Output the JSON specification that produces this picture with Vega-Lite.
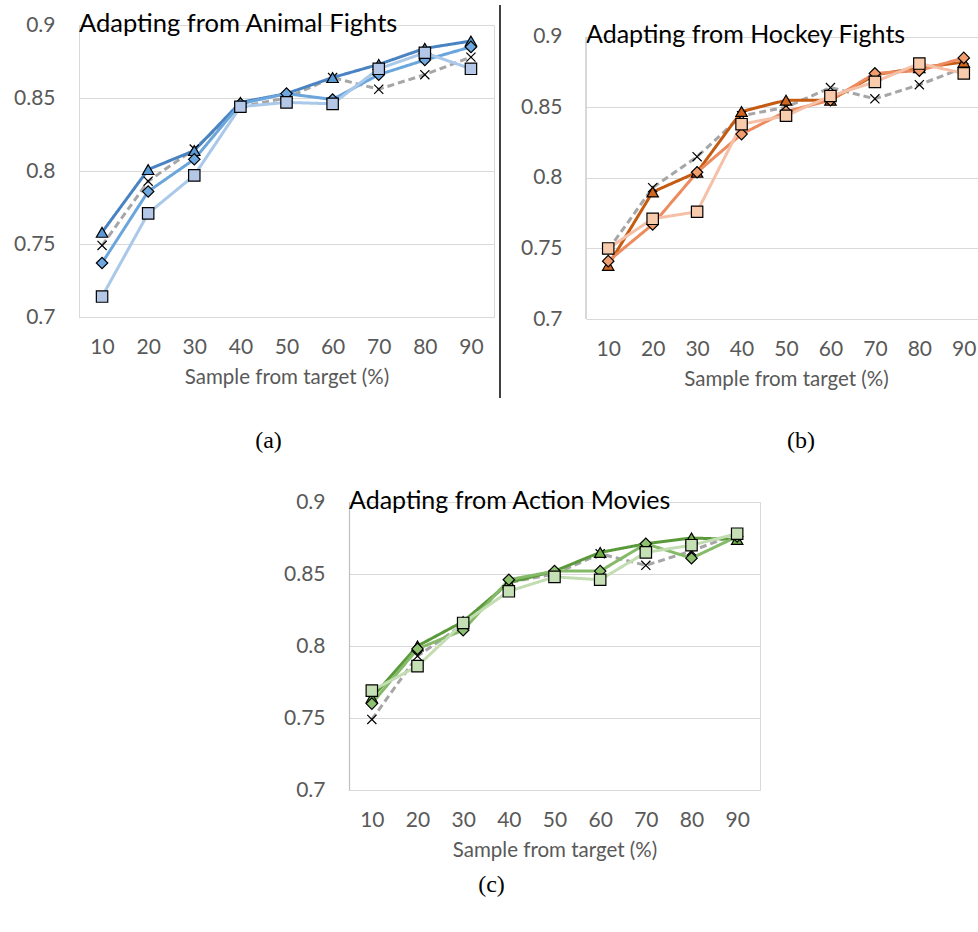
{
  "$schema": "https://vega.github.io/schema/vega-lite/v6.json",
  "padding": {"left": 13, "top": 3, "right": 0, "bottom": 0},
  "background": "white",
  "config": {
    "font": "Lato",
    "view": {"stroke": "#d9d9d9", "strokeWidth": 1},
    "axis": {"labelFont": "Lato", "labelFontSize": 21, "labelColor": "#595959", "ticks": false, "domain": false, "grid": false, "titleFont": "Lato", "titleFontSize": 20.5, "titleColor": "#595959", "titleFontWeight": "normal"},
    "axisX": {"labelPadding": 19, "titlePadding": 10},
    "axisY": {"grid": true, "gridColor": "#d9d9d9", "gridWidth": 1, "labelPadding": 24},
    "legend": {"labelFont": "Lato", "labelFontSize": 21, "labelColor": "#595959", "labelLimit": 260, "symbolStrokeColor": "black", "symbolStrokeWidth": 1.2, "symbolSize": 130, "rowPadding": 3, "labelOffset": 3},
    "title": {"font": "Liberation Serif", "fontSize": 24, "fontWeight": "normal", "color": "black", "orient": "bottom", "anchor": "middle"}
  },
  "datasets": {
    "a": [
      {"series": "Without adaption", "sample": 10, "acc": 0.749}, {"series": "Without adaption", "sample": 20, "acc": 0.793}, {"series": "Without adaption", "sample": 30, "acc": 0.815}, {"series": "Without adaption", "sample": 40, "acc": 0.844}, {"series": "Without adaption", "sample": 50, "acc": 0.85}, {"series": "Without adaption", "sample": 60, "acc": 0.864}, {"series": "Without adaption", "sample": 70, "acc": 0.856}, {"series": "Without adaption", "sample": 80, "acc": 0.866}, {"series": "Without adaption", "sample": 90, "acc": 0.878},
      {"series": "15 classifiers", "sample": 10, "acc": 0.758}, {"series": "15 classifiers", "sample": 20, "acc": 0.801}, {"series": "15 classifiers", "sample": 30, "acc": 0.814}, {"series": "15 classifiers", "sample": 40, "acc": 0.847}, {"series": "15 classifiers", "sample": 50, "acc": 0.853}, {"series": "15 classifiers", "sample": 60, "acc": 0.864}, {"series": "15 classifiers", "sample": 70, "acc": 0.873}, {"series": "15 classifiers", "sample": 80, "acc": 0.884}, {"series": "15 classifiers", "sample": 90, "acc": 0.889},
      {"series": "10 classifiers", "sample": 10, "acc": 0.737}, {"series": "10 classifiers", "sample": 20, "acc": 0.786}, {"series": "10 classifiers", "sample": 30, "acc": 0.808}, {"series": "10 classifiers", "sample": 40, "acc": 0.846}, {"series": "10 classifiers", "sample": 50, "acc": 0.853}, {"series": "10 classifiers", "sample": 60, "acc": 0.849}, {"series": "10 classifiers", "sample": 70, "acc": 0.866}, {"series": "10 classifiers", "sample": 80, "acc": 0.876}, {"series": "10 classifiers", "sample": 90, "acc": 0.885},
      {"series": "5 classifers", "sample": 10, "acc": 0.714}, {"series": "5 classifers", "sample": 20, "acc": 0.771}, {"series": "5 classifers", "sample": 30, "acc": 0.797}, {"series": "5 classifers", "sample": 40, "acc": 0.844}, {"series": "5 classifers", "sample": 50, "acc": 0.847}, {"series": "5 classifers", "sample": 60, "acc": 0.846}, {"series": "5 classifers", "sample": 70, "acc": 0.87}, {"series": "5 classifers", "sample": 80, "acc": 0.881}, {"series": "5 classifers", "sample": 90, "acc": 0.87}
    ],
    "b": [
      {"series": "Without adaption", "sample": 10, "acc": 0.749}, {"series": "Without adaption", "sample": 20, "acc": 0.793}, {"series": "Without adaption", "sample": 30, "acc": 0.815}, {"series": "Without adaption", "sample": 40, "acc": 0.844}, {"series": "Without adaption", "sample": 50, "acc": 0.85}, {"series": "Without adaption", "sample": 60, "acc": 0.864}, {"series": "Without adaption", "sample": 70, "acc": 0.856}, {"series": "Without adaption", "sample": 80, "acc": 0.866}, {"series": "Without adaption", "sample": 90, "acc": 0.878},
      {"series": "15 classifiers", "sample": 10, "acc": 0.738}, {"series": "15 classifiers", "sample": 20, "acc": 0.79}, {"series": "15 classifiers", "sample": 30, "acc": 0.804}, {"series": "15 classifiers", "sample": 40, "acc": 0.847}, {"series": "15 classifiers", "sample": 50, "acc": 0.855}, {"series": "15 classifiers", "sample": 60, "acc": 0.855}, {"series": "15 classifiers", "sample": 70, "acc": 0.873}, {"series": "15 classifiers", "sample": 80, "acc": 0.878}, {"series": "15 classifiers", "sample": 90, "acc": 0.882},
      {"series": "10 classifiers", "sample": 10, "acc": 0.741}, {"series": "10 classifiers", "sample": 20, "acc": 0.767}, {"series": "10 classifiers", "sample": 30, "acc": 0.804}, {"series": "10 classifiers", "sample": 40, "acc": 0.831}, {"series": "10 classifiers", "sample": 50, "acc": 0.847}, {"series": "10 classifiers", "sample": 60, "acc": 0.855}, {"series": "10 classifiers", "sample": 70, "acc": 0.874}, {"series": "10 classifiers", "sample": 80, "acc": 0.876}, {"series": "10 classifiers", "sample": 90, "acc": 0.885},
      {"series": "5 classifiers", "sample": 10, "acc": 0.75}, {"series": "5 classifiers", "sample": 20, "acc": 0.771}, {"series": "5 classifiers", "sample": 30, "acc": 0.776}, {"series": "5 classifiers", "sample": 40, "acc": 0.838}, {"series": "5 classifiers", "sample": 50, "acc": 0.844}, {"series": "5 classifiers", "sample": 60, "acc": 0.858}, {"series": "5 classifiers", "sample": 70, "acc": 0.868}, {"series": "5 classifiers", "sample": 80, "acc": 0.881}, {"series": "5 classifiers", "sample": 90, "acc": 0.874}
    ],
    "c": [
      {"series": "Without adaption", "sample": 10, "acc": 0.749}, {"series": "Without adaption", "sample": 20, "acc": 0.793}, {"series": "Without adaption", "sample": 30, "acc": 0.815}, {"series": "Without adaption", "sample": 40, "acc": 0.844}, {"series": "Without adaption", "sample": 50, "acc": 0.85}, {"series": "Without adaption", "sample": 60, "acc": 0.864}, {"series": "Without adaption", "sample": 70, "acc": 0.856}, {"series": "Without adaption", "sample": 80, "acc": 0.866}, {"series": "Without adaption", "sample": 90, "acc": 0.878},
      {"series": "15 classifiers", "sample": 10, "acc": 0.764}, {"series": "15 classifiers", "sample": 20, "acc": 0.8}, {"series": "15 classifiers", "sample": 30, "acc": 0.817}, {"series": "15 classifiers", "sample": 40, "acc": 0.844}, {"series": "15 classifiers", "sample": 50, "acc": 0.852}, {"series": "15 classifiers", "sample": 60, "acc": 0.865}, {"series": "15 classifiers", "sample": 70, "acc": 0.871}, {"series": "15 classifiers", "sample": 80, "acc": 0.875}, {"series": "15 classifiers", "sample": 90, "acc": 0.874},
      {"series": "10 classifiers", "sample": 10, "acc": 0.76}, {"series": "10 classifiers", "sample": 20, "acc": 0.798}, {"series": "10 classifiers", "sample": 30, "acc": 0.811}, {"series": "10 classifiers", "sample": 40, "acc": 0.846}, {"series": "10 classifiers", "sample": 50, "acc": 0.852}, {"series": "10 classifiers", "sample": 60, "acc": 0.852}, {"series": "10 classifiers", "sample": 70, "acc": 0.871}, {"series": "10 classifiers", "sample": 80, "acc": 0.861}, {"series": "10 classifiers", "sample": 90, "acc": 0.876},
      {"series": "5 classifiers", "sample": 10, "acc": 0.769}, {"series": "5 classifiers", "sample": 20, "acc": 0.786}, {"series": "5 classifiers", "sample": 30, "acc": 0.816}, {"series": "5 classifiers", "sample": 40, "acc": 0.838}, {"series": "5 classifiers", "sample": 50, "acc": 0.848}, {"series": "5 classifiers", "sample": 60, "acc": 0.846}, {"series": "5 classifiers", "sample": 70, "acc": 0.865}, {"series": "5 classifiers", "sample": 80, "acc": 0.87}, {"series": "5 classifiers", "sample": 90, "acc": 0.878}
    ]
  },
  "resolve": {"scale": {"x": "independent", "y": "independent", "stroke": "independent", "strokeDash": "independent", "fill": "independent", "shape": "independent"}, "axis": {"x": "independent", "y": "independent"}, "legend": {"fill": "independent", "shape": "independent", "stroke": "independent", "strokeDash": "independent"}},
  "spacing": 34,
  "vconcat": [
    {
      "spacing": 18,
      "resolve": {"scale": {"x": "independent", "y": "independent", "stroke": "independent", "strokeDash": "independent", "fill": "independent", "shape": "independent"}, "axis": {"x": "independent", "y": "independent"}, "legend": {"fill": "independent", "shape": "independent", "stroke": "independent", "strokeDash": "independent"}},
      "hconcat": [
        {
          "width": 415, "height": 292,
          "title": {"text": "(a)", "offset": 30, "dx": -18},
          "data": {"name": "a"},
          "layer": [
            {
              "mark": {"type": "line", "strokeWidth": 3},
              "encoding": {
                "x": {"field": "sample", "type": "quantitative", "title": "Sample from target (%)", "scale": {"domain": [5, 95], "nice": false, "zero": false}, "axis": {"values": [10, 20, 30, 40, 50, 60, 70, 80, 90], "format": "d"}},
                "y": {"field": "acc", "type": "quantitative", "title": null, "scale": {"domain": [0.7, 0.9], "nice": false, "zero": false}, "axis": {"values": [0.7, 0.75, 0.8, 0.85, 0.9], "format": "~g"}},
                "stroke": {"field": "series", "type": "nominal", "scale": {"domain": ["Without adaption", "15 classifiers", "10 classifiers", "5 classifers"], "range": ["#a6a6a6", "#4a83c2", "#6aa6dc", "#a9c8ea"]}, "legend": null},
                "strokeDash": {"field": "series", "type": "nominal", "scale": {"domain": ["Without adaption", "15 classifiers", "10 classifiers", "5 classifers"], "range": [[7, 4], [1, 0], [1, 0], [1, 0]]}, "legend": null}
              }
            },
            {
              "mark": {"type": "point", "filled": true, "opacity": 1, "stroke": "black", "strokeWidth": 1.2, "size": 130},
              "encoding": {
                "x": {"field": "sample", "type": "quantitative", "title": "Sample from target (%)"},
                "y": {"field": "acc", "type": "quantitative", "title": null},
                "fill": {"field": "series", "type": "nominal", "scale": {"domain": ["Without adaption", "15 classifiers", "10 classifiers", "5 classifers"], "range": ["#000000", "#5b9bd5", "#6ea8de", "#b4c7e7"]},
                  "legend": {"title": null, "orient": "bottom-right", "offset": 20,
                    "encode": {"symbols": {"update": {"shape": {"signal": "datum.value === 'Without adaption' ? 'M-0.8,-0.8L0.8,0.8M-0.8,0.8L0.8,-0.8' : datum.value === '15 classifiers' ? 'triangle-up' : datum.value === '10 classifiers' ? 'diamond' : 'square'"}, "stroke": {"value": "black"}}}}}},
                "shape": {"field": "series", "type": "nominal", "scale": {"domain": ["Without adaption", "15 classifiers", "10 classifiers", "5 classifers"], "range": ["M-0.8,-0.8L0.8,0.8M-0.8,0.8L0.8,-0.8", "triangle-up", "diamond", "square"]},
                  "legend": {"title": null, "orient": "bottom-right", "offset": 20}}
              }
            },
            {
              "data": {"values": [{}]},
              "mark": {"type": "text", "align": "left", "baseline": "alphabetic", "font": "Lato", "fontSize": 25.5, "color": "#000000"},
              "encoding": {
                "x": {"datum": 5, "type": "quantitative", "title": "Sample from target (%)"},
                "y": {"datum": 0.8954, "type": "quantitative", "title": null},
                "text": {"value": "Adapting from Animal Fights"}
              }
            },
            {
              "data": {"values": [{}]},
              "mark": {"type": "rule", "color": "black", "strokeWidth": 1.5},
              "encoding": {
                "x": {"datum": 96.3, "type": "quantitative", "title": "Sample from target (%)"},
                "y": {"datum": 0.9137, "type": "quantitative", "title": null},
                "y2": {"datum": 0.6445}
              }
            }
          ]
        },
        {
          "width": 400, "height": 294,
          "view": {"stroke": null},
          "title": {"text": "(b)", "offset": 39, "dx": 15},
          "data": {"name": "b"},
          "layer": [
            {
              "mark": {"type": "line", "strokeWidth": 3},
              "encoding": {
                "x": {"field": "sample", "type": "quantitative", "title": "Sample from target (%)", "scale": {"domain": [5, 95], "nice": false, "zero": false}, "axis": {"values": [10, 20, 30, 40, 50, 60, 70, 80, 90], "format": "d"}},
                "y": {"field": "acc", "type": "quantitative", "title": null, "scale": {"domain": [0.7, 0.9083], "nice": false, "zero": false}, "axis": {"values": [0.7, 0.75, 0.8, 0.85, 0.9], "format": "~g"}},
                "stroke": {"field": "series", "type": "nominal", "scale": {"domain": ["Without adaption", "15 classifiers", "10 classifiers", "5 classifiers"], "range": ["#a6a6a6", "#c55a11", "#ed8b5e", "#f6c0a6"]}, "legend": null},
                "strokeDash": {"field": "series", "type": "nominal", "scale": {"domain": ["Without adaption", "15 classifiers", "10 classifiers", "5 classifiers"], "range": [[7, 4], [1, 0], [1, 0], [1, 0]]}, "legend": null}
              }
            },
            {
              "mark": {"type": "point", "filled": true, "opacity": 1, "stroke": "black", "strokeWidth": 1.2, "size": 130},
              "encoding": {
                "x": {"field": "sample", "type": "quantitative", "title": "Sample from target (%)"},
                "y": {"field": "acc", "type": "quantitative", "title": null},
                "fill": {"field": "series", "type": "nominal", "scale": {"domain": ["Without adaption", "15 classifiers", "10 classifiers", "5 classifiers"], "range": ["#000000", "#d0661f", "#f09e6e", "#f8cbad"]},
                  "legend": {"title": null, "orient": "bottom-right", "offset": 20,
                    "encode": {"symbols": {"update": {"shape": {"signal": "datum.value === 'Without adaption' ? 'M-0.8,-0.8L0.8,0.8M-0.8,0.8L0.8,-0.8' : datum.value === '15 classifiers' ? 'triangle-up' : datum.value === '10 classifiers' ? 'diamond' : 'square'"}, "stroke": {"value": "black"}}}}}},
                "shape": {"field": "series", "type": "nominal", "scale": {"domain": ["Without adaption", "15 classifiers", "10 classifiers", "5 classifiers"], "range": ["M-0.8,-0.8L0.8,0.8M-0.8,0.8L0.8,-0.8", "triangle-up", "diamond", "square"]},
                  "legend": {"title": null, "orient": "bottom-right", "offset": 20}}
              }
            },
            {
              "data": {"values": [{}]},
              "mark": {"type": "text", "align": "left", "baseline": "alphabetic", "font": "Lato", "fontSize": 25, "color": "#000000"},
              "encoding": {
                "x": {"datum": 5, "type": "quantitative", "title": "Sample from target (%)"},
                "y": {"datum": 0.8953, "type": "quantitative", "title": null},
                "text": {"value": "Adapting from Hockey Fights"}
              }
            },
            {
              "data": {"values": [{}]},
              "mark": {"type": "rule", "color": "#bfbfbf", "strokeWidth": 1.2},
              "encoding": {
                "x": {"datum": 5, "type": "quantitative", "title": "Sample from target (%)"},
                "y": {"datum": 0.9, "type": "quantitative", "title": null},
                "y2": {"datum": 0.7}
              }
            }
          ]
        }
      ]
    },
    {
      "spacing": 0,
      "resolve": {"scale": {"x": "independent", "y": "independent", "stroke": "independent", "strokeDash": "independent", "fill": "independent", "shape": "independent"}, "axis": {"x": "independent", "y": "independent"}, "legend": {"fill": "independent", "shape": "independent", "stroke": "independent", "strokeDash": "independent"}},
      "hconcat": [
        {"width": 204, "height": 10, "view": {"stroke": null}, "data": {"values": []}, "mark": "point", "encoding": {}},
        {
          "width": 411, "height": 288,
          "title": {"text": "(c)", "offset": 12, "dx": -63},
          "data": {"name": "c"},
          "layer": [
            {
              "mark": {"type": "line", "strokeWidth": 3},
              "encoding": {
                "x": {"field": "sample", "type": "quantitative", "title": "Sample from target (%)", "scale": {"domain": [5, 95], "nice": false, "zero": false}, "axis": {"values": [10, 20, 30, 40, 50, 60, 70, 80, 90], "format": "d"}},
                "y": {"field": "acc", "type": "quantitative", "title": null, "scale": {"domain": [0.7, 0.9], "nice": false, "zero": false}, "axis": {"values": [0.7, 0.75, 0.8, 0.85, 0.9], "format": "~g", "domain": true, "domainColor": "#bfbfbf", "domainWidth": 1.2}},
                "stroke": {"field": "series", "type": "nominal", "scale": {"domain": ["Without adaption", "15 classifiers", "10 classifiers", "5 classifiers"], "range": ["#a6a6a6", "#5a9a3b", "#85ba68", "#c2ddb1"]}, "legend": null},
                "strokeDash": {"field": "series", "type": "nominal", "scale": {"domain": ["Without adaption", "15 classifiers", "10 classifiers", "5 classifiers"], "range": [[7, 4], [1, 0], [1, 0], [1, 0]]}, "legend": null}
              }
            },
            {
              "mark": {"type": "point", "filled": true, "opacity": 1, "stroke": "black", "strokeWidth": 1.2, "size": 130},
              "encoding": {
                "x": {"field": "sample", "type": "quantitative", "title": "Sample from target (%)"},
                "y": {"field": "acc", "type": "quantitative", "title": null},
                "fill": {"field": "series", "type": "nominal", "scale": {"domain": ["Without adaption", "15 classifiers", "10 classifiers", "5 classifiers"], "range": ["#000000", "#70ad47", "#8dc170", "#c5e0b4"]},
                  "legend": {"title": null, "orient": "bottom-right", "offset": 20,
                    "encode": {"symbols": {"update": {"shape": {"signal": "datum.value === 'Without adaption' ? 'M-0.8,-0.8L0.8,0.8M-0.8,0.8L0.8,-0.8' : datum.value === '15 classifiers' ? 'triangle-up' : datum.value === '10 classifiers' ? 'diamond' : 'square'"}, "stroke": {"value": "black"}}}}}},
                "shape": {"field": "series", "type": "nominal", "scale": {"domain": ["Without adaption", "15 classifiers", "10 classifiers", "5 classifiers"], "range": ["M-0.8,-0.8L0.8,0.8M-0.8,0.8L0.8,-0.8", "triangle-up", "diamond", "square"]},
                  "legend": {"title": null, "orient": "bottom-right", "offset": 20}}
              }
            },
            {
              "data": {"values": [{}]},
              "mark": {"type": "text", "align": "left", "baseline": "alphabetic", "font": "Lato", "fontSize": 25, "color": "#000000"},
              "encoding": {
                "x": {"datum": 5, "type": "quantitative", "title": "Sample from target (%)"},
                "y": {"datum": 0.8953, "type": "quantitative", "title": null},
                "text": {"value": "Adapting from Action Movies"}
              }
            }
          ]
        }
      ]
    }
  ]
}
